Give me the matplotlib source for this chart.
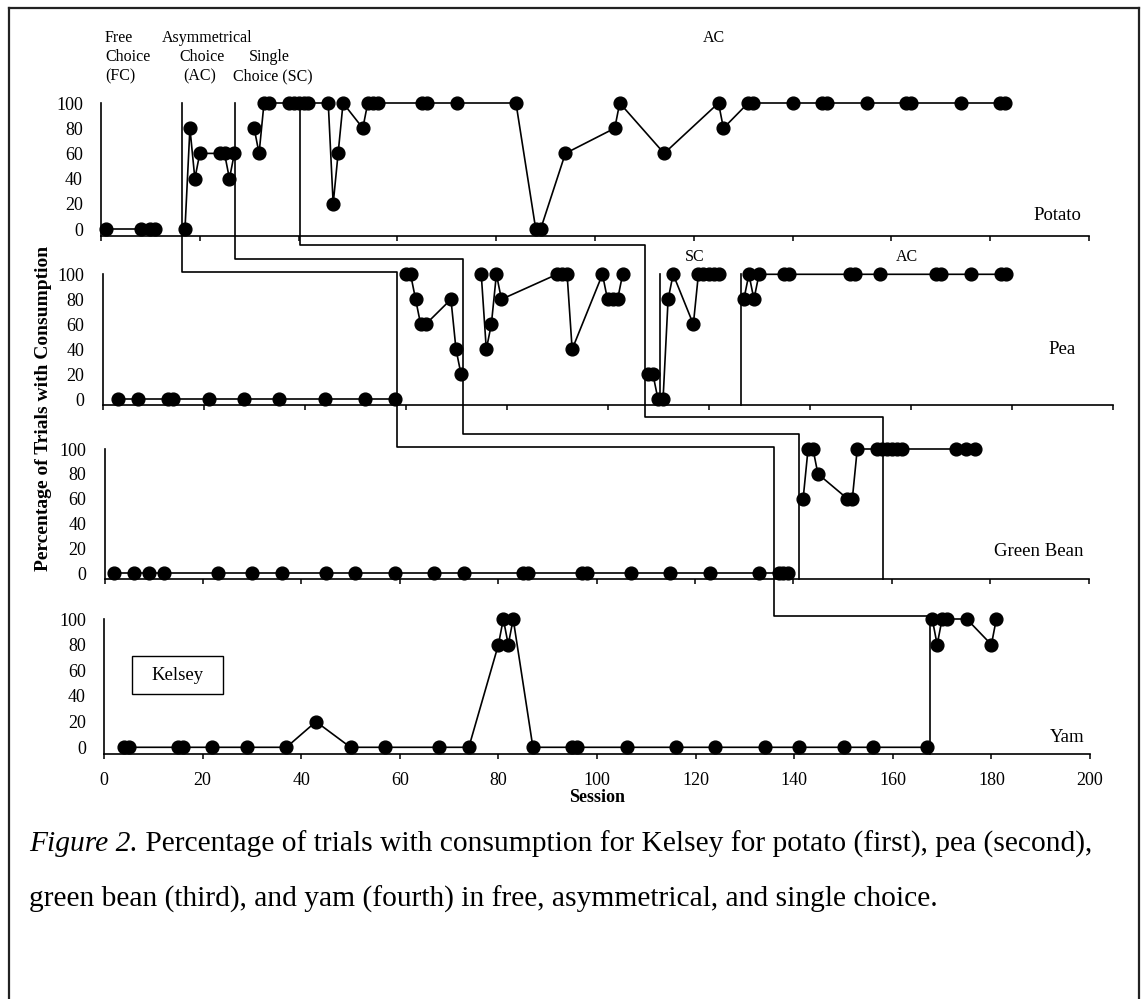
import matplotlib
matplotlib.use("Agg")
import matplotlib.pyplot as plt
from matplotlib.lines import Line2D
from matplotlib.patches import Rectangle

W, H, DPI = 1141, 999, 100
plt.rcParams['font.family'] = ['Liberation Serif', 'DejaVu Serif']

# ---------------- data ----------------
sessions_ticks = list(range(0, 201, 20))
pct_ticks = list(range(0, 101, 20))

potato_fc_x = [1, 8, 10, 11]
potato_fc_y = [0, 0, 0, 0]
potato_ac_x = [17, 18, 19, 20, 24, 25, 26, 27]
potato_ac_y = [0, 80, 40, 60, 60, 60, 40, 60]
potato_sc_x = [31, 32, 33, 34, 38, 39, 40, 41, 42, 46, 47, 48, 49, 53, 54, 55, 56, 65, 66, 72, 84,
               88, 89, 94, 104, 105, 114, 125, 126, 131, 132, 140, 146, 147, 155, 163, 164, 174, 182, 183]
potato_sc_y = [80, 60, 100, 100, 100, 100, 100, 100, 100, 100, 20, 60, 100, 80, 100, 100, 100, 100, 100, 100, 100,
               0, 0, 60, 80, 100, 60, 100, 80, 100, 100, 100, 100, 100, 100, 100, 100, 100, 100, 100]

pea_fc_x = [3, 7, 13, 14, 21, 28, 35, 44, 52, 58]
pea_fc_y = [0, 0, 0, 0, 0, 0, 0, 0, 0, 0]
pea_ac_x = [60, 61, 62, 63, 64, 69, 70, 71]
pea_ac_y = [100, 100, 80, 60, 60, 80, 40, 20]
pea_sc_x = [75, 76, 77, 78, 79, 90, 91, 92, 93, 99, 100, 101, 102, 103]
pea_sc_y = [100, 40, 60, 100, 80, 100, 100, 100, 40, 100, 80, 80, 80, 100]
pea_ac2_x = [108, 109, 110, 111, 112, 113, 117, 118, 119, 120, 121, 122]
pea_ac2_y = [20, 20, 0, 0, 80, 100, 60, 100, 100, 100, 100, 100]
pea_ac3_x = [127, 128, 129, 130, 135, 136, 148, 149, 154, 165, 166, 172, 178, 179]
pea_ac3_y = [80, 100, 80, 100, 100, 100, 100, 100, 100, 100, 100, 100, 100, 100]

bean_fc_x = [2, 6, 9, 12, 23, 30, 36, 45, 51, 59, 67, 73, 85, 86, 97, 98, 107, 115, 123, 133, 137, 138, 139]
bean_fc_y = [0] * 23
bean_ac_x = [142, 143, 144, 145, 151, 152, 153, 157, 158, 159, 160, 161, 162, 173, 175, 177]
bean_ac_y = [60, 100, 100, 80, 60, 60, 100, 100, 100, 100, 100, 100, 100, 100, 100, 100]

yam_fc_x = [4, 5, 15, 16, 22, 29, 37, 43, 50, 57, 68, 74, 80, 81, 82, 83, 87, 95, 96,
            106, 116, 124, 134, 141, 150, 156, 167]
yam_fc_y = [0, 0, 0, 0, 0, 0, 0, 20, 0, 0, 0, 0, 80, 100, 80, 100, 0, 0, 0,
            0, 0, 0, 0, 0, 0, 0, 0]
yam_ac_x = [168, 169, 170, 171, 175, 180, 181]
yam_ac_y = [100, 80, 100, 100, 100, 80, 100]

# phase-change sessions (one per panel crossed)
phase_fc_ac = [16.3, 58.3, 136.1, 167.6]
phase_ac_sc = [27.2, 71.3, 141.2]
phase_sc_ac = [40.3, 107.4, 158.2]
pea_only_phases = [110.4, 126.4]

panel_names = ['Potato', 'Pea', 'Green Bean', 'Yam']

# ---------------- layout (pixels) ----------------
# (x at session 0, x at session 200, y of 100, y of 0, y of axis line)
boxes = [
    (101, 1089, 103, 229, 236),
    (102.5, 1112.5, 274.3, 399.3, 405),
    (104.5, 1088.5, 449, 573.3, 579.3),
    (104, 1090, 619, 747.3, 754.3),
]
segments = [
    [(potato_fc_x, potato_fc_y), (potato_ac_x, potato_ac_y), (potato_sc_x, potato_sc_y)],
    [(pea_fc_x, pea_fc_y), (pea_ac_x, pea_ac_y), (pea_sc_x, pea_sc_y),
     (pea_ac2_x, pea_ac2_y), (pea_ac3_x, pea_ac3_y)],
    [(bean_fc_x, bean_fc_y), (bean_ac_x, bean_ac_y)],
    [(yam_fc_x, yam_fc_y), (yam_ac_x, yam_ac_y)],
]
label_pos = [(1057, 215, 'center'), (1062, 350, 'center'), (994, 552, 'left'), (1067, 737, 'center')]

fig = plt.figure(figsize=(W / DPI, H / DPI), dpi=DPI)
fig.patch.set_facecolor('white')

axes = []
for i, (bx0, bx1, y100, y0, yax) in enumerate(boxes):
    ax = fig.add_axes([bx0 / W, 1 - yax / H, (bx1 - bx0) / W, (yax - y100) / H])
    ymin = -100.0 * (yax - y0) / (y0 - y100)
    ax.set_xlim(0, 200)
    ax.set_ylim(ymin, 100)
    ax.patch.set_alpha(0)
    for s in ('top', 'right'):
        ax.spines[s].set_visible(False)
    for s in ('left', 'bottom'):
        ax.spines[s].set_linewidth(1.2)
        ax.spines[s].set_color('black')
    ax.set_xticks(sessions_ticks)
    ax.set_yticks(pct_ticks)
    ax.tick_params(axis='y', length=0, pad=13, labelsize=13)
    ax.tick_params(axis='x', length=3.5, width=1.1, direction='out', pad=9, labelsize=13,
                   labelbottom=(i == 3))
    for xs, ys in segments[i]:
        ax.plot(xs, ys, '-o', color='black', lw=1.2, ms=9.2, clip_on=False, zorder=3)
    lx, ly, ha = label_pos[i]
    fig.text(lx / W, 1 - ly / H, panel_names[i], ha=ha, va='center', fontsize=13.5)
    axes.append(ax)

# -------- phase-change lines --------
def disp_x(ax, s):
    return ax.transData.transform((s, 0))[0]

def axis_y(ax):
    return ax.transAxes.transform((0, 0))[1]

def top_y(ax):
    return ax.transData.transform((0, 100))[1]

def add_line(xs, ys):
    inv = fig.transFigure.inverted()
    pts = inv.transform(list(zip(xs, ys)))
    fig.add_artist(Line2D(pts[:, 0], pts[:, 1], transform=fig.transFigure,
                          color='black', lw=1.2, zorder=5))

def staircase(sess, drops):
    xs, ys = [], []
    x = disp_x(axes[0], sess[0])
    xs.append(x); ys.append(top_y(axes[0]))
    for k in range(len(sess) - 1):
        yc = axis_y(axes[k]) - drops[k]
        xs.append(x); ys.append(yc)
        x = disp_x(axes[k + 1], sess[k + 1])
        xs.append(x); ys.append(yc)
    xs.append(x); ys.append(axis_y(axes[len(sess) - 1]))
    add_line(xs, ys)

staircase(phase_fc_ac, [36, 42, 37])
staircase(phase_ac_sc, [23, 29])
staircase(phase_sc_ac, [9, 12])
for s in pea_only_phases:
    x = disp_x(axes[1], s)
    add_line([x, x], [top_y(axes[1]), axis_y(axes[1])])

# -------- texts --------
def ftext(x, y, s, **kw):
    return fig.text(x / W, 1 - y / H, s, **kw)

ph = dict(fontsize=11.5, va='center')
ftext(105, 38, 'Free', ha='left', **ph)
ftext(105, 57, 'Choice', ha='left', **ph)
ftext(105, 76, '(FC)', ha='left', **ph)
ftext(162, 38, 'Asymmetrical', ha='left', **ph)
ftext(202, 57, 'Choice', ha='center', **ph)
ftext(200, 76, '(AC)', ha='center', **ph)
ftext(269, 57, 'Single', ha='center', **ph)
ftext(273, 76, 'Choice (SC)', ha='center', **ph)
ftext(714, 38, 'AC', ha='center', **ph)
ftext(695, 257, 'SC', ha='center', **ph)
ftext(907, 257, 'AC', ha='center', **ph)

ftext(44, 408, 'Percentage of Trials with Consumption', ha='center', va='center',
      rotation=90, fontsize=14, fontweight='bold')
ftext(597, 798, 'Session', ha='center', va='center', fontsize=13, fontweight='bold')

# Kelsey box
fig.add_artist(Rectangle((132 / W, 1 - 694 / H), 91 / W, 38 / H, transform=fig.transFigure,
                         facecolor='white', edgecolor='black', lw=1.0, zorder=4))
ftext(177.5, 675, 'Kelsey', ha='center', va='center', fontsize=13.5, zorder=6)

# caption
fig.canvas.draw()
r = fig.canvas.get_renderer()
cap_rest1 = ' Percentage of trials with consumption for Kelsey for potato (first), pea (second),'
cap_line2 = 'green bean (third), and yam (fourth) in free, asymmetrical, and single choice.'
fs = 18
t1 = ftext(29, 844, 'Figure 2.', ha='left', va='center', fontsize=fs, style='italic')
t2 = ftext(29, 844, cap_rest1, ha='left', va='center', fontsize=fs)
w = t1.get_window_extent(r).width + t2.get_window_extent(r).width
fs = fs * 1068 / w
t1.set_fontsize(fs); t2.set_fontsize(fs)
fig.canvas.draw()
w1 = t1.get_window_extent(r).width
t2.set_x((29 + w1) / W)
ftext(29, 899, cap_line2, ha='left', va='center', fontsize=fs)

# outer frame
frame_col = '#222222'
fig.add_artist(Line2D([9 / W, 1139 / W], [1 - 8 / H, 1 - 8 / H], transform=fig.transFigure, color=frame_col, lw=1.6))
fig.add_artist(Line2D([9 / W, 9 / W], [1 - 8 / H, 0], transform=fig.transFigure, color=frame_col, lw=1.6))
fig.add_artist(Line2D([1139 / W, 1139 / W], [1 - 8 / H, 0], transform=fig.transFigure, color=frame_col, lw=1.6))

fig.savefig('out.png', dpi=DPI)
